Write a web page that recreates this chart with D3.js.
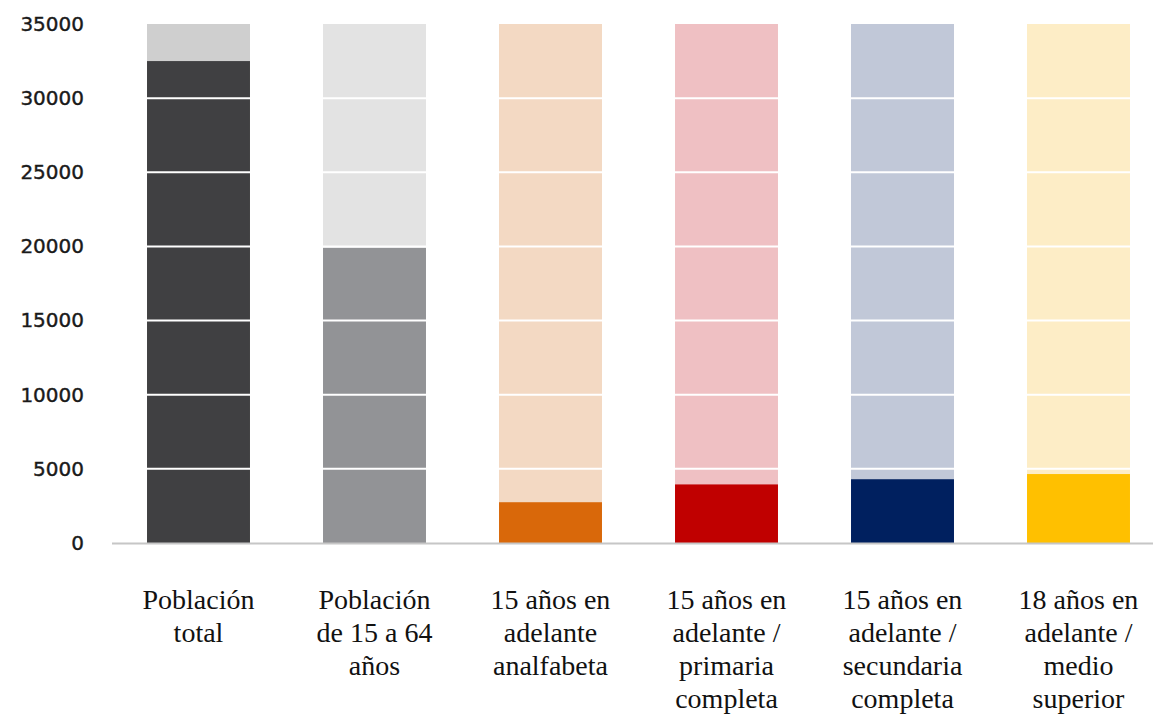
<!DOCTYPE html>
<html>
<head>
<meta charset="utf-8">
<script src="https://cdn.jsdelivr.net/npm/d3@7"></script>
<style>
  body { margin: 0; background: #fff; }
  svg { display: block; }
  text.cat { font-family: "Liberation Serif", Tinos, "Noto Serif", "DejaVu Serif", FreeSerif, "Times New Roman", Times, serif; }
  text.ytick { font-family: "DejaVu Sans", Verdana, sans-serif; }
</style>
</head>
<body>
<div id="chart"></div>
<script>
// data
const categories = [
    ["Población", "total"],
    ["Población", "de 15 a 64", "años"],
    ["15 años en", "adelante", "analfabeta"],
    ["15 años en", "adelante /", "primaria", "completa"],
    ["15 años en", "adelante /", "secundaria", "completa"],
    ["18 años en", "adelante /", "medio", "superior"]
];
const values = [32500, 19900, 2750, 3950, 4300, 4650];
const backValues = [35000, 35000, 35000, 35000, 35000, 35000];
const yTicks = [0, 5000, 10000, 15000, 20000, 25000, 30000, 35000];

const frontColors = ["#404042", "#929396", "#d9680a", "#c00000", "#00205f", "#ffc000"];
const backColors = ["#cfcfcf", "#e3e3e3", "#f3d9c3", "#efc0c3", "#c1c8d8", "#fdedc6"];

const W = 1153, H = 719;

const svg = d3
    .select("#chart")
    .append("svg")
    .attr("width", W)
    .attr("height", H);

const x = d3
    .scaleBand()
    .domain(d3.range(categories.length))
    .range([110.5, 1166.5])
    .paddingInner(0.415)
    .paddingOuter(0.2075);

const y = d3
    .scaleLinear()
    .domain([0, 35000])
    .range([543, 24]);

// background bars
svg.selectAll("rect.back")
    .data(backValues)
    .enter()
    .append("rect")
    .attr("class", "back")
    .attr("x", (d, i) => x(i))
    .attr("y", (d) => y(d))
    .attr("width", x.bandwidth())
    .attr("height", (d) => y(0) - y(d))
    .attr("fill", (d, i) => backColors[i]);

// value bars
svg.selectAll("rect.front")
    .data(values)
    .enter()
    .append("rect")
    .attr("class", "front")
    .attr("x", (d, i) => x(i))
    .attr("y", (d) => y(d))
    .attr("width", x.bandwidth())
    .attr("height", (d) => y(0) - y(d))
    .attr("fill", (d, i) => frontColors[i]);

// white gridlines over the bars
svg.selectAll("line.grid")
    .data(yTicks.filter((d) => d > 0 && d < 35000))
    .enter()
    .append("line")
    .attr("class", "grid")
    .attr("x1", 112)
    .attr("x2", W)
    .attr("y1", (d) => y(d))
    .attr("y2", (d) => y(d))
    .attr("stroke", "#fff")
    .attr("stroke-width", 2);

// baseline
svg.append("line")
    .attr("x1", 112)
    .attr("x2", W)
    .attr("y1", y(0) + 0.5)
    .attr("y2", y(0) + 0.5)
    .attr("stroke", "#c6c6c6")
    .attr("stroke-width", 2);

// y axis labels
const yAxis = svg.append("g")
    .attr("transform", "translate(84,0)")
    .call(d3.axisLeft(y).tickValues(yTicks).tickSize(0).tickPadding(0).tickFormat(d3.format("d")));
yAxis.select(".domain").remove();
yAxis.attr("font-family", null);
yAxis.selectAll("text")
    .attr("class", "ytick")
    .attr("font-size", 20)
    .attr("fill", "#1a1a1a")
    .attr("stroke", "#1a1a1a")
    .attr("stroke-width", 0.4);

// category labels
const lab = svg.append("g")
    .attr("font-family", "Liberation Serif, serif")
    .selectAll("text.cat")
    .data(categories)
    .enter()
    .append("text")
    .attr("class", "cat")
    .attr("x", (d, i) => x(i) + x.bandwidth() / 2)
    .attr("y", 609)
    .attr("text-anchor", "middle")
    .attr("font-size", 28)
    .attr("fill", "#111");

lab.selectAll("tspan")
    .data((d) => d)
    .enter()
    .append("tspan")
    .attr("x", function () { return d3.select(this.parentNode).attr("x"); })
    .attr("dy", (d, i) => (i === 0 ? 0 : 33))
    .text((d) => d);
</script>
</body>
</html>
